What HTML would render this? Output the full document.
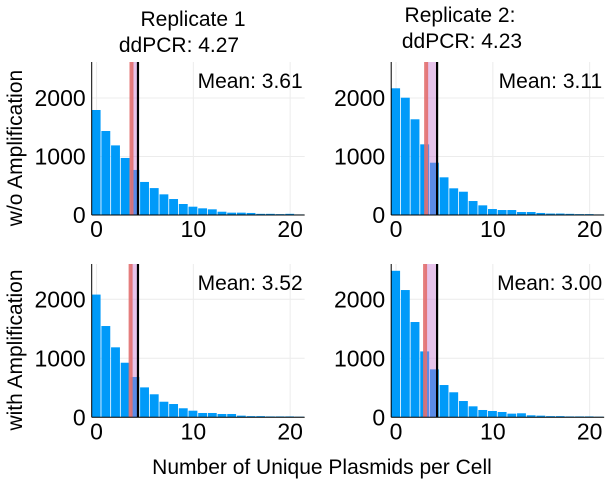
<!DOCTYPE html>
<html><head><meta charset="utf-8"><style>
html,body{margin:0;padding:0;background:#fff;}
svg{display:block;font-family:"Liberation Sans",sans-serif;}
</style></head><body>
<svg id="chart" width="610" height="486" viewBox="0 0 610 486">
<text x="193" y="26" font-size="21" text-anchor="middle">Replicate 1</text>
<text x="179" y="52" font-size="21" text-anchor="middle">ddPCR: 4.27</text>
<text x="460" y="22" font-size="21" text-anchor="middle">Replicate 2:</text>
<text x="462" y="48" font-size="21" text-anchor="middle">ddPCR: 4.23</text>
<text transform="translate(22,148) rotate(-90)" font-size="21" text-anchor="middle">w/o Amplification</text>
<text transform="translate(22,350) rotate(-90)" font-size="21" text-anchor="middle">with Amplification</text>
<text x="322" y="474" font-size="21" text-anchor="middle">Number of Unique Plasmids per Cell</text>
</svg>
<script>
const categories = [0,1,2,3,4,5,6,7,8,9,10,11,12,13,14,15,16,17,18,19,20,21];
const countsTL = [1795,1436,1190,975,770,565,460,353,273,188,142,114,97,56,40,40,35,20,20,15,20,10];
const countsTR = [2166,2005,1636,1208,894,644,456,398,239,165,102,85,85,51,51,35,25,25,20,15,15,10];
const countsBL = [2080,1547,1186,925,683,507,390,264,225,153,112,73,73,56,56,28,20,20,15,15,15,10];
const countsBR = [2483,2157,1615,1117,813,547,424,276,186,124,107,90,62,68,34,28,20,20,15,15,15,10];
const means = [3.61,3.11,3.52,3.00];
const ddpcr = [4.27,4.23,4.27,4.23];
const meanLabels = ["Mean: 3.61","Mean: 3.11","Mean: 3.52","Mean: 3.00"];
const xTicks = [0,10,20];
const yTicks = [0,1000,2000];

const svg = document.getElementById('chart');
const NS = 'http://www.w3.org/2000/svg';
function mk(tag, attrs){const e=document.createElementNS(NS,tag);for(const k in attrs)e.setAttribute(k,attrs[k]);svg.appendChild(e);return e;}

const panels = [
 {counts:countsTL,x0:91.7,base:215,top:62,pxPer1000:58.5},
 {counts:countsTR,x0:391.2,base:215,top:62,pxPer1000:58.5},
 {counts:countsBL,x0:91.7,base:417.3,top:264,pxPer1000:59},
 {counts:countsBR,x0:391.2,base:417.3,top:264,pxPer1000:59}
];
const unit = 9.68;
panels.forEach((p,i)=>{
  const xs = v => p.x0 + (v+0.5)*unit;
  const ys = v => p.base - v*p.pxPer1000/1000;
  const right = xs(21.5);
  xTicks.forEach(t=>{
    const g=mk('line',{x1:xs(t),x2:xs(t),y1:p.top,y2:p.base,stroke:'#ececec','stroke-width':1});
    
    
    const l=mk('text',{x:xs(t),y:p.base+22,'font-size':23,'text-anchor':'middle'});
    l.textContent=t;
    
    
  });
  yTicks.forEach(t=>{
    const g=mk('line',{x1:p.x0,x2:right,y1:ys(t),y2:ys(t),stroke:'#ececec','stroke-width':1});
    
    
    const l=mk('text',{x:p.x0-6,y:ys(t)+8,'font-size':23,'text-anchor':'end'});
    l.textContent=t;
    
    
  });
  categories.forEach((c,j)=>{
    const v=p.counts[j];
    const b=mk('rect',{x:xs(c-0.5),y:ys(v),width:unit-0.8,height:p.base-ys(v),fill:'#009af9'});
    
    
  });
  const mx=xs(means[i]), dx=xs(ddpcr[i]);
  const band=mk('rect',{x:mx,y:p.top,width:dx-mx,height:p.base-p.top,fill:'#c77bd0','fill-opacity':0.45});
  
  
  const ml=mk('rect',{x:mx-2,y:p.top,width:4,height:p.base-p.top,fill:'#e26f6f','fill-opacity':0.9});
  
  
  const dl=mk('rect',{x:dx-1,y:p.top,width:2.2,height:p.base-p.top,fill:'#000'});
  
  
  const ax=mk('line',{x1:p.x0,x2:p.x0,y1:p.top,y2:p.base,stroke:'#000','stroke-width':1});
  
  
  const bx=mk('line',{x1:p.x0,x2:right,y1:p.base,y2:p.base,stroke:'#000','stroke-width':1});
  
  
  const mt=mk('text',{x:right-2,y:p.top+26,'font-size':21,'text-anchor':'end'});
  mt.textContent=meanLabels[i];
  
  
});
</script>
</body></html>
